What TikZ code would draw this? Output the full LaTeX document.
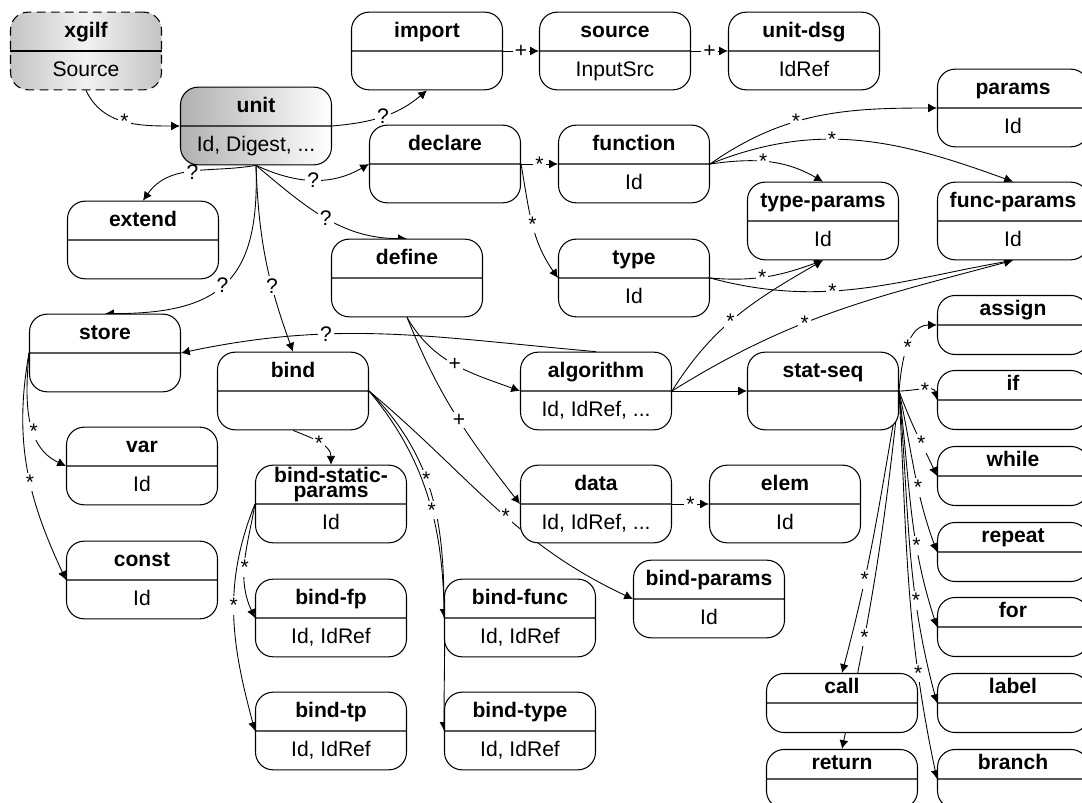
\documentclass[tikz,border=0pt]{standalone}
\usepackage{fontspec}
\setmainfont{Liberation Sans}
\usetikzlibrary{shapes.multipart, arrows.meta, backgrounds}
\definecolor{cLine}{RGB}{0, 0, 0}
\definecolor{cDark}{RGB}{196, 196, 196}
\definecolor{cLight}{RGB}{242, 242, 242}
\tikzstyle{Box}=[rectangle split,
		rectangle split parts=2,
		draw=cLine,
		fill=white,
		line width=0.6pt,
		rounded corners=10pt,
		minimum width=3.02cm,
		inner ysep=4pt,
		font=\fontsize{12}{14}\selectfont]
\tikzstyle{StmtBox}=[Box,
		inner ysep=1.35pt]
\tikzstyle{Mult}=[fill=white,
		inner sep=1.2pt,
		font=\fontsize{12}{14}\selectfont]
\tikzstyle{Link}=[-{Latex[length=5pt,width=5pt]},line width=0.5pt]
\newcommand{\BoxHd}[1]{\rule[-3.5pt]{0pt}{13.5pt}\textbf{#1}}
\newcommand{\BoxAt}[1]{\rule[-3.5pt]{0pt}{13.5pt}#1}

\begin{document}
\begin{tikzpicture}[x=0.02cm,y=0.02cm]
  \useasboundingbox (0,0) rectangle (1082,-803);

  % document and unit
  \node [Box,rectangle split draw splits=false,dashed,dash pattern=on 5pt off 3pt,left color=cDark,right color=cDark,middle color=cLight] (xgilf) at (86,-51) {\BoxHd{xgilf}\nodepart{two}\BoxAt{Source}};
  \draw[line width=0.6pt] (xgilf.text split west) -- (xgilf.text split east);
  \node [Box,left color=cDark!90!black,right color=white] (unit) at (256,-126) {\BoxHd{unit}\nodepart{two}\BoxAt{Id, Digest, ...}};
  \node [Box] (import) at (427,-51) {\BoxHd{import}\nodepart{two}\BoxAt{}};
  \node [Box] (source) at (615,-51) {\BoxHd{source}\nodepart{two}\BoxAt{InputSrc}};
  \node [Box] (unitdsg) at (804,-51) {\BoxHd{unit-dsg}\nodepart{two}\BoxAt{IdRef}};
  \node [Box] (extend) at (143,-240) {\BoxHd{extend}\nodepart{two}\BoxAt{}};

  % declarations
  \node [Box] (declare) at (445,-164) {\BoxHd{declare}\nodepart{two}\BoxAt{}};
  \node [Box] (function) at (634,-164) {\BoxHd{function}\nodepart{two}\BoxAt{Id}};
  \node [Box] (type) at (634,-278) {\BoxHd{type}\nodepart{two}\BoxAt{Id}};
  \node [Box] (params) at (1013,-108) {\BoxHd{params}\nodepart{two}\BoxAt{Id}};
  \node [Box] (typeparams) at (823,-221) {\BoxHd{type-params}\nodepart{two}\BoxAt{Id}};
  \node [Box] (funcparams) at (1013,-221) {\BoxHd{func-params}\nodepart{two}\BoxAt{Id}};

  % definitions
  \node [Box] (define) at (407,-278) {\BoxHd{define}\nodepart{two}\BoxAt{}};
  \node [Box] (algorithm) at (596,-391) {\BoxHd{algorithm}\nodepart{two}\BoxAt{Id, IdRef, ...}};
  \node [Box] (data) at (596,-504) {\BoxHd{data}\nodepart{two}\BoxAt{Id, IdRef, ...}};
  \node [Box] (elem) at (785,-504) {\BoxHd{elem}\nodepart{two}\BoxAt{Id}};
  \node [Box] (statseq) at (823,-391) {\BoxHd{stat-seq}\nodepart{two}\BoxAt{}};

  % store and bind
  \node [Box] (store) at (105,-353) {\BoxHd{store}\nodepart{two}\BoxAt{}};
  \node [Box] (var) at (142,-466) {\BoxHd{var}\nodepart{two}\BoxAt{Id}};
  \node [Box] (const) at (142,-580) {\BoxHd{const}\nodepart{two}\BoxAt{Id}};
  \node [Box] (bind) at (293,-391) {\BoxHd{bind}\nodepart{two}\BoxAt{}};
  \node [Box] (bsp) at (331,-504) {\BoxHd{\smash{\begin{tabular}{@{}c@{}}bind-static-\\[-5pt]params\end{tabular}}}\nodepart{two}\BoxAt{Id}};
  \node [Box] (bindfp) at (331,-618) {\BoxHd{bind-fp}\nodepart{two}\BoxAt{Id, IdRef}};
  \node [Box] (bindtp) at (331,-731) {\BoxHd{bind-tp}\nodepart{two}\BoxAt{Id, IdRef}};
  \node [Box] (bindfunc) at (520,-618) {\BoxHd{bind-func}\nodepart{two}\BoxAt{Id, IdRef}};
  \node [Box] (bindtype) at (520,-731) {\BoxHd{bind-type}\nodepart{two}\BoxAt{Id, IdRef}};
  \node [Box] (bindparams) at (709,-599) {\BoxHd{bind-params}\nodepart{two}\BoxAt{Id}};

  % statements
  \node [StmtBox] (assign) at (1013,-325) {\BoxHd{assign}\nodepart{two}\BoxAt{}};
  \node [StmtBox] (if) at (1013,-400) {\BoxHd{if}\nodepart{two}\BoxAt{}};
  \node [StmtBox] (while) at (1013,-476) {\BoxHd{while}\nodepart{two}\BoxAt{}};
  \node [StmtBox] (repeat) at (1013,-552) {\BoxHd{repeat}\nodepart{two}\BoxAt{}};
  \node [StmtBox] (for) at (1013,-627) {\BoxHd{for}\nodepart{two}\BoxAt{}};
  \node [StmtBox] (label) at (1013,-703) {\BoxHd{label}\nodepart{two}\BoxAt{}};
  \node [StmtBox] (branch) at (1013,-779) {\BoxHd{branch}\nodepart{two}\BoxAt{}};
  \node [StmtBox] (call) at (842,-703) {\BoxHd{call}\nodepart{two}\BoxAt{}};
  \node [StmtBox] (return) at (842,-779) {\BoxHd{return}\nodepart{two}\BoxAt{}};

  \begin{scope}[on background layer]
  % unit links
  \draw[Link] (xgilf.south) to[out=-65,in=180] node[Mult] {*} (unit.text split west);
  \draw[Link] (unit.text split east) to[out=5,in=-140] node[Mult] {?} (import.south);
  \draw[Link] (unit.south) to[out=190,in=55] node[Mult] {?} (extend.north);
  \draw[Link] (unit.south) to[out=-25,in=-150] node[Mult] {?} (declare.text split west);
  \draw[Link] (unit.south) to[out=-40,in=180] node[Mult] {?} (define.north);
  \draw[Link] (unit.south) to[out=-88,in=0,looseness=1.4] node[Mult,pos=0.52] {?} (store.north);
  \draw[Link] (unit.south) to[out=-88,in=110] node[Mult,pos=0.65] {?} (bind.north);
  \draw[Link] (import.text split east) -- node[Mult] {+} (source.text split west);
  \draw[Link] (source.text split east) -- node[Mult] {+} (unitdsg.text split west);

  % declaration links
  \draw[Link] (declare.text split east) -- node[Mult] {*} (function.text split west);
  \draw[Link] (declare.text split east) to[out=-80,in=125] node[Mult] {*} (type.text split west);
  \draw[Link] (function.text split east) to[out=35,in=180] node[Mult,pos=0.4] {*} (params.text split west);
  \draw[Link] (function.text split east) to[out=22,in=160] node[Mult,pos=0.4] {*} (funcparams.north);
  \draw[Link] (function.text split east) to[out=8,in=150] node[Mult,pos=0.45] {*} (typeparams.north);
  \draw[Link] (type.text split east) to[out=-5,in=-160] node[Mult,pos=0.45] {*} (typeparams.south);
  \draw[Link] (type.text split east) to[out=-15,in=-170] node[Mult,pos=0.4] {*} (funcparams.south);

  % definition links
  \draw[Link] (define.south) to[out=-60,in=160] node[Mult] {+} (algorithm.text split west);
  \draw[Link] (define.south) to[out=-68,in=128] node[Mult,pos=0.53] {+} (data.text split west);
  \draw[Link] (algorithm.text split east) to[out=58,in=-150] node[Mult,pos=0.45] {*} (typeparams.south);
  \draw[Link] (algorithm.text split east) to[out=32,in=-165] node[Mult,pos=0.4] {*} (funcparams.south);
  \draw[Link] (algorithm.text split east) -- (statseq.text split west);
  \draw[Link] (algorithm.north) to[out=175,in=12] node[Mult,pos=0.66] {?} (store.text split east);
  \draw[Link] (data.text split east) -- node[Mult] {*} (elem.text split west);

  % store and bind links
  \draw[Link] (store.text split west) to[out=-95,in=155] node[Mult,pos=0.6] {*} (var.text split west);
  \draw[Link] (store.text split west) to[out=-100,in=115] node[Mult,pos=0.56] {*} (const.text split west);
  \draw[Link] (bind.south) to[out=-22,in=90] node[Mult] {*} (bsp.north);
  \draw[Link] (bind.text split east) to[out=-45,in=90] node[Mult,pos=0.43] {*} (bindfunc.text split west);
  \draw[Link] (bind.text split east) to[out=-50,in=90] node[Mult,pos=0.38] {*} (bindtype.text split west);
  \draw[Link] (bind.text split east) to[out=-40,in=155] node[Mult,pos=0.55] {*} (bindparams.text split west);
  \draw[Link] (bsp.text split west) to[out=-100,in=115] node[Mult,pos=0.55] {*} (bindfp.text split west);
  \draw[Link] (bsp.text split west) to[out=-112,in=105] node[Mult,pos=0.45] {*} (bindtp.text split west);

  % statement links
  \draw[Link] (statseq.text split east) to[out=85,in=180] node[Mult,pos=0.5] {*} (assign.text split west);
  \draw[Link] (statseq.text split east) to[out=0,in=100] node[Mult,pos=0.55] {*} (if.text split west);
  \draw[Link] (statseq.text split east) to[out=-70,in=115] node[Mult,pos=0.62] {*} (while.text split west);
  \draw[Link] (statseq.text split east) to[out=-78,in=110] node[Mult,pos=0.6] {*} (repeat.text split west);
  \draw[Link] (statseq.text split east) to[out=-83,in=108] node[Mult,pos=0.66] {*} (for.text split west);
  \draw[Link] (statseq.text split east) to[out=-85,in=105] node[Mult,pos=0.68] {*} (label.text split west);
  \draw[Link] (statseq.text split east) to[out=-87,in=102] node[Mult,pos=0.74] {*} (branch.text split west);
  \draw[Link] (statseq.text split east) to[out=-100,in=75] node[Mult,pos=0.68] {*} (call.north);
  \draw[Link] (statseq.text split east) to[out=-96,in=78] node[Mult,pos=0.7] {*} (return.north);
  \end{scope}

\end{tikzpicture}
\end{document}
